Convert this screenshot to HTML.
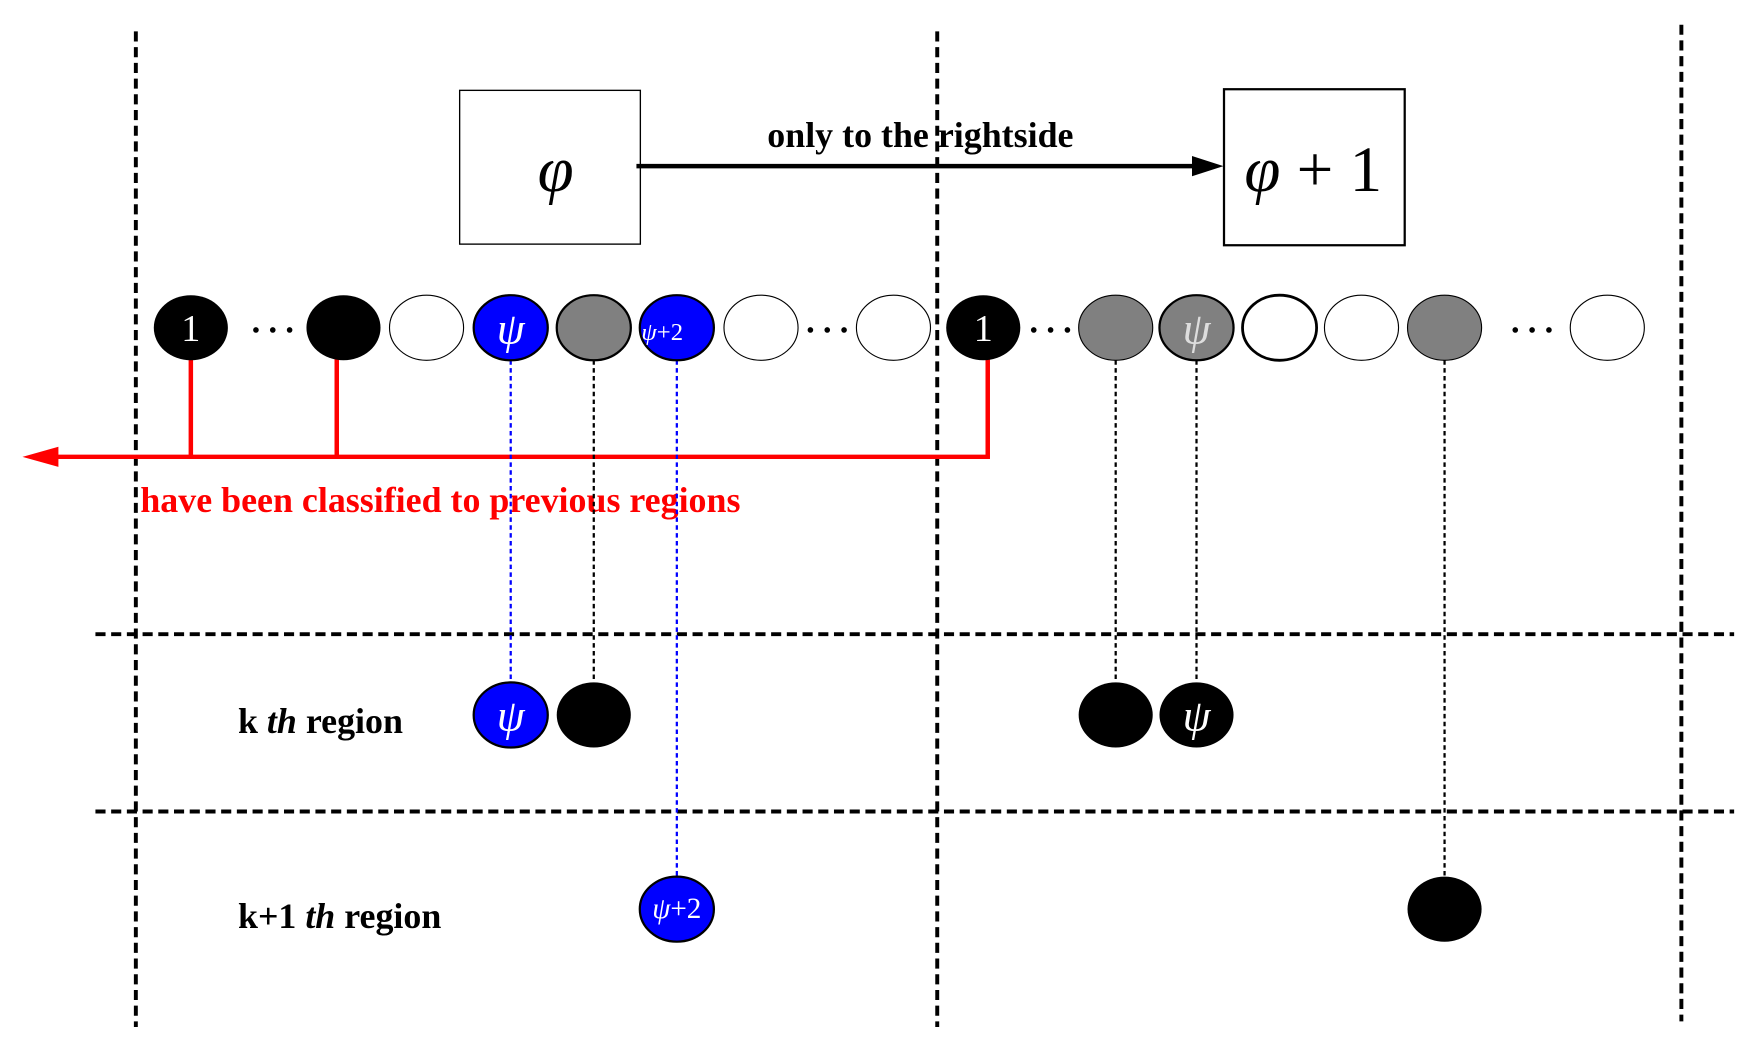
<!DOCTYPE html>
<html><head><meta charset="utf-8"><style>html,body{margin:0;padding:0;background:#fff;}svg{display:block}</style></head>
<body>
<svg width="1751" height="1050" viewBox="0 0 1560 935.5" xmlns="http://www.w3.org/2000/svg" font-family="Liberation Serif, serif">
<defs>
<marker id="ab" markerWidth="10" markerHeight="10" refX="9" refY="5" orient="auto" markerUnits="userSpaceOnUse"><path d="M0,0 L28,5 L0,10 z" transform="scale(1)"/></marker>
</defs>
<g stroke="#000" stroke-width="3.5" stroke-dasharray="9,5" fill="none">
<line x1="121" y1="28" x2="121" y2="915"/>
<line x1="835" y1="28" x2="835" y2="915"/>
<line x1="1498" y1="22" x2="1498" y2="910"/>
<line x1="85" y1="565" x2="1545" y2="565"/>
<line x1="85" y1="723" x2="1545" y2="723"/>
</g>
<rect x="409.5" y="80.5" width="161" height="137" fill="none" stroke="#000" stroke-width="1.2"/>
<rect x="1090.5" y="79.5" width="161" height="139" fill="none" stroke="#000" stroke-width="2"/>
<text x="495" y="170" font-size="58" font-style="italic" text-anchor="middle">φ</text>
<text x="1170" y="170" font-size="58" text-anchor="middle"><tspan font-style="italic">φ</tspan> + 1</text>
<line x1="567" y1="148" x2="1068" y2="148" stroke="#000" stroke-width="4"/>
<path d="M1090,148 L1062,139 L1062,157 z" fill="#000"/>
<text x="820" y="131" font-size="32" font-weight="bold" text-anchor="middle">only to the rightside</text>
<!-- red -->
<g stroke="#f00" stroke-width="4" fill="none">
<line x1="170" y1="318" x2="170" y2="407"/>
<line x1="300" y1="318" x2="300" y2="407"/>
<line x1="880" y1="318" x2="880" y2="407"/>
<line x1="48" y1="407" x2="882" y2="407"/>
</g>
<path d="M20,407 L52,398 L52,416 z" fill="#f00"/>
<text x="125" y="456" font-size="32" font-weight="bold" fill="#f00">have been classified to previous regions</text>
<!-- dotted connectors -->
<g stroke-width="2" stroke-dasharray="4,3" fill="none">
<line x1="455" y1="321" x2="455" y2="608" stroke="#00f"/>
<line x1="603" y1="321" x2="603" y2="781" stroke="#00f"/>
<line x1="529" y1="321" x2="529" y2="608" stroke="#000"/>
<line x1="994" y1="321" x2="994" y2="608" stroke="#000"/>
<line x1="1066" y1="321" x2="1066" y2="608" stroke="#000"/>
<line x1="1287" y1="321" x2="1287" y2="781" stroke="#000"/>
</g>
<!-- top row -->
<g>
<ellipse cx="170" cy="292" rx="33" ry="29" fill="#000"/>
<ellipse cx="306" cy="292" rx="33" ry="29" fill="#000"/>
<ellipse cx="380" cy="292" rx="33" ry="29" fill="#fff" stroke="#000" stroke-width="1"/>
<ellipse cx="455" cy="292" rx="33" ry="29" fill="#00f" stroke="#000" stroke-width="2"/>
<ellipse cx="529" cy="292" rx="33" ry="29" fill="#808080" stroke="#000" stroke-width="2"/>
<ellipse cx="603" cy="292" rx="33" ry="29" fill="#00f" stroke="#000" stroke-width="2"/>
<ellipse cx="678" cy="292" rx="33" ry="29" fill="#fff" stroke="#000" stroke-width="1"/>
<ellipse cx="796" cy="292" rx="33" ry="29" fill="#fff" stroke="#000" stroke-width="1"/>
<ellipse cx="876" cy="292" rx="33" ry="29" fill="#000"/>
<ellipse cx="994" cy="292" rx="33" ry="29" fill="#808080" stroke="#000" stroke-width="1"/>
<ellipse cx="1066" cy="292" rx="33" ry="29" fill="#808080" stroke="#000" stroke-width="2"/>
<ellipse cx="1140" cy="292" rx="33" ry="29" fill="#fff" stroke="#000" stroke-width="2.5"/>
<ellipse cx="1213" cy="292" rx="33" ry="29" fill="#fff" stroke="#000" stroke-width="1"/>
<ellipse cx="1287" cy="292" rx="33" ry="29" fill="#808080" stroke="#000" stroke-width="1"/>
<ellipse cx="1432" cy="292" rx="33" ry="29" fill="#fff" stroke="#000" stroke-width="1"/>
</g>
<g fill="#fff" text-anchor="middle">
<text x="170" y="304" font-size="34">1</text>
<text x="876" y="304" font-size="34">1</text>
<text x="455" y="306" font-size="40" font-style="italic">ψ</text>
<text x="1066" y="306" font-size="40" font-style="italic" fill="#ddd">ψ</text>
<text x="590" y="303" font-size="22"><tspan font-style="italic">ψ</tspan>+2</text>
</g>
<g fill="#000">
<circle cx="228" cy="294" r="2.5"/><circle cx="243" cy="294" r="2.5"/><circle cx="258" cy="294" r="2.5"/>
<circle cx="722" cy="294" r="2.5"/><circle cx="737" cy="294" r="2.5"/><circle cx="752" cy="294" r="2.5"/>
<circle cx="921" cy="294" r="2.5"/><circle cx="936" cy="294" r="2.5"/><circle cx="951" cy="294" r="2.5"/>
<circle cx="1350" cy="294" r="2.5"/><circle cx="1365" cy="294" r="2.5"/><circle cx="1380" cy="294" r="2.5"/>
</g>
<!-- k th region -->
<ellipse cx="455" cy="637" rx="33" ry="29" fill="#00f" stroke="#000" stroke-width="2"/>
<ellipse cx="529" cy="637" rx="33" ry="29" fill="#000"/>
<ellipse cx="994" cy="637" rx="33" ry="29" fill="#000"/>
<ellipse cx="1066" cy="637" rx="33" ry="29" fill="#000"/>
<text x="455" y="651" font-size="40" font-style="italic" fill="#fff" text-anchor="middle">ψ</text>
<text x="1066" y="651" font-size="40" font-style="italic" fill="#fff" text-anchor="middle">ψ</text>
<ellipse cx="603" cy="810" rx="33" ry="29" fill="#00f" stroke="#000" stroke-width="2"/>
<ellipse cx="1287" cy="810" rx="33" ry="29" fill="#000"/>
<text x="603" y="818" font-size="26" fill="#fff" text-anchor="middle"><tspan font-style="italic">ψ</tspan>+2</text>
<text x="212" y="653" font-size="32" font-weight="bold">k <tspan font-style="italic">th</tspan> region</text>
<text x="212" y="827" font-size="32" font-weight="bold">k+1 <tspan font-style="italic">th</tspan> region</text>
</svg>
</body></html>
